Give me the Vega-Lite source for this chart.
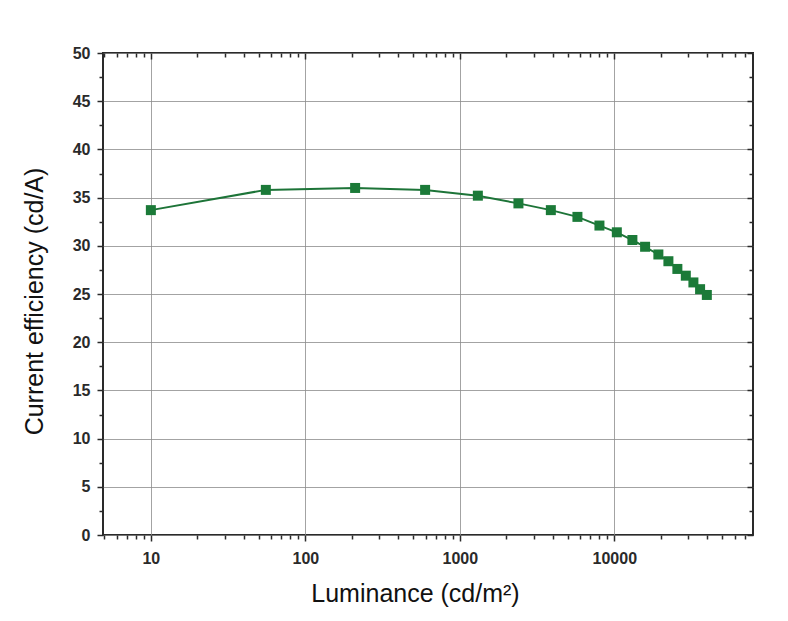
{
  "$schema": "https://vega.github.io/schema/vega-lite/v6.json",
  "width": 650,
  "height": 482,
  "autosize": {"type": "none"},
  "padding": {"left": 103, "top": 53, "right": 35, "bottom": 86},
  "background": "white",
  "data": {
    "values": [
      {"luminance": 10, "efficiency": 33.7},
      {"luminance": 55.5, "efficiency": 35.8},
      {"luminance": 210, "efficiency": 36.0},
      {"luminance": 596, "efficiency": 35.8},
      {"luminance": 1308, "efficiency": 35.2},
      {"luminance": 2395, "efficiency": 34.4},
      {"luminance": 3882, "efficiency": 33.7},
      {"luminance": 5770, "efficiency": 33.0},
      {"luminance": 8010, "efficiency": 32.1},
      {"luminance": 10380, "efficiency": 31.4},
      {"luminance": 13090, "efficiency": 30.6},
      {"luminance": 15820, "efficiency": 29.9},
      {"luminance": 19280, "efficiency": 29.1},
      {"luminance": 22390, "efficiency": 28.4},
      {"luminance": 25590, "efficiency": 27.6},
      {"luminance": 29020, "efficiency": 26.9},
      {"luminance": 32500, "efficiency": 26.2},
      {"luminance": 35900, "efficiency": 25.5},
      {"luminance": 39700, "efficiency": 24.9}
    ]
  },
  "resolve": {"axis": {"x": "independent", "y": "independent"}},
  "layer": [
    {
      "mark": {"type": "line", "color": "#1d7438", "strokeWidth": 2},
      "encoding": {
        "x": {
          "field": "luminance", "type": "quantitative",
          "scale": {"type": "log", "domain": [4.9, 79000], "nice": false},
          "axis": {
            "orient": "bottom", "values": [10, 100, 1000, 10000], "format": "d",
            "title": "Luminance (cd/m²)", "grid": true, "tickSize": 6,
            "labelPadding": 9, "titleX": 312, "titleY": 66,
            "titleBaseline": "alphabetic", "titleAlign": "center"
          }
        },
        "y": {
          "field": "efficiency", "type": "quantitative",
          "scale": {"domain": [0, 50], "nice": false, "zero": false},
          "axis": {
            "orient": "left", "values": [0, 5, 10, 15, 20, 25, 30, 35, 40, 45, 50],
            "title": "Current efficiency (cd/A)", "grid": true, "tickSize": 6,
            "labelPadding": 7, "titleX": -69, "titleY": 248,
            "titleAngle": -90, "titleBaseline": "middle", "titleAlign": "center"
          }
        }
      }
    },
    {
      "mark": {"type": "square", "color": "#1b7a38", "size": 100, "opacity": 1, "filled": true},
      "encoding": {
        "x": {
          "field": "luminance", "type": "quantitative",
          "scale": {"type": "log", "domain": [4.9, 79000], "nice": false},
          "axis": {
            "orient": "bottom",
            "values": [5, 6, 7, 8, 9, 20, 30, 40, 50, 60, 70, 80, 90, 200, 300, 400, 500, 600, 700, 800, 900, 2000, 3000, 4000, 5000, 6000, 7000, 8000, 9000, 20000, 30000, 40000, 50000, 60000, 70000],
            "labels": false, "title": null, "grid": false, "tickSize": 4
          }
        },
        "y": {
          "field": "efficiency", "type": "quantitative",
          "scale": {"domain": [0, 50], "nice": false, "zero": false},
          "axis": {
            "orient": "left",
            "values": [2.5, 7.5, 12.5, 17.5, 22.5, 27.5, 32.5, 37.5, 42.5, 47.5],
            "labels": false, "title": null, "grid": false, "tickSize": 4
          }
        }
      }
    },
    {
      "mark": {"type": "point", "opacity": 0},
      "encoding": {
        "x": {
          "field": "luminance", "type": "quantitative",
          "scale": {"type": "log", "domain": [4.9, 79000], "nice": false},
          "axis": {
            "orient": "top", "values": [10, 100, 1000, 10000],
            "labels": false, "title": null, "grid": false, "tickSize": -6
          }
        },
        "y": {
          "field": "efficiency", "type": "quantitative",
          "scale": {"domain": [0, 50], "nice": false, "zero": false},
          "axis": {
            "orient": "right", "values": [0, 5, 10, 15, 20, 25, 30, 35, 40, 45, 50],
            "labels": false, "title": null, "grid": false, "tickSize": -6
          }
        }
      }
    },
    {
      "mark": {"type": "point", "opacity": 0},
      "encoding": {
        "x": {
          "field": "luminance", "type": "quantitative",
          "scale": {"type": "log", "domain": [4.9, 79000], "nice": false},
          "axis": {
            "orient": "top",
            "values": [5, 6, 7, 8, 9, 20, 30, 40, 50, 60, 70, 80, 90, 200, 300, 400, 500, 600, 700, 800, 900, 2000, 3000, 4000, 5000, 6000, 7000, 8000, 9000, 20000, 30000, 40000, 50000, 60000, 70000],
            "labels": false, "title": null, "grid": false, "tickSize": -4
          }
        },
        "y": {
          "field": "efficiency", "type": "quantitative",
          "scale": {"domain": [0, 50], "nice": false, "zero": false},
          "axis": {
            "orient": "right",
            "values": [2.5, 7.5, 12.5, 17.5, 22.5, 27.5, 32.5, 37.5, 42.5, 47.5],
            "labels": false, "title": null, "grid": false, "tickSize": -4
          }
        }
      }
    }
  ],
  "config": {
    "view": {"stroke": "#2a2a2a", "strokeWidth": 2},
    "axis": {
      "domain": false,
      "tickColor": "#2a2a2a",
      "tickWidth": 1.5,
      "gridColor": "#8c8c8c",
      "gridWidth": 1,
      "gridOpacity": 0.8,
      "labelFont": "Liberation Sans",
      "labelFontSize": 16,
      "labelFontWeight": "bold",
      "labelColor": "#2a2a2a",
      "titleFont": "Liberation Sans",
      "titleFontSize": 25,
      "titleFontWeight": "normal",
      "titleColor": "#111111"
    }
  }
}
